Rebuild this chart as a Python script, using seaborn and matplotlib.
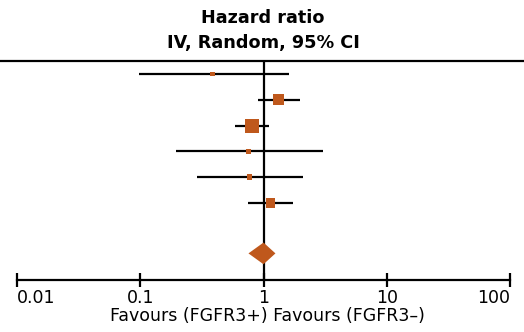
import numpy as np
import pandas as pd
import matplotlib
matplotlib.use("Agg")
import matplotlib.pyplot as plt
import seaborn as sns

# Study estimates (hazard ratio with 95% CI), top to bottom
hr = [0.385, 1.32, 0.80, 0.755, 0.77, 1.14]
ci_low = [0.098, 0.91, 0.59, 0.196, 0.29, 0.755]
ci_high = [1.60, 1.96, 1.10, 3.02, 2.08, 1.75]
weights = [4, 24, 41, 4, 6, 20]

# Pooled estimate (random effects)
pooled_hr = 1.0
pooled_low = 0.755
pooled_high = 1.25

tick_vals = [0.01, 0.1, 1, 10, 100]
tick_labels = ["0.01", "0.1", "1", "10", "100"]

orange = "#bf581c"

sns.set_theme(style="white")
plt.rcParams['font.family'] = ['DejaVu Sans']

df = pd.DataFrame({"hr": hr, "lo": ci_low, "hi": ci_high,
                   "w": weights, "row": np.arange(len(hr))})
pooled_row = len(hr) + 0.95

fig = plt.figure(figsize=(5.24, 3.32), dpi=100)
ax = fig.add_axes([0, 1 - 280 / 332, 1, (280 - 61) / 332])

# confidence intervals
ax.hlines(df["row"], df["lo"], df["hi"], color="black", lw=1.6, zorder=2)
# line of no effect
ax.axvline(1, color="black", lw=1.6, zorder=3)

# study squares, area proportional to weight
sns.scatterplot(data=df, x="hr", y="row", size="w", sizes=(11, 100),
                marker="s", color=orange, linewidth=0, legend=False,
                ax=ax, zorder=4)

# pooled diamond
dh = 0.42
ax.fill([pooled_low, pooled_hr, pooled_high, pooled_hr],
        [pooled_row, pooled_row - dh, pooled_row, pooled_row + dh],
        color=orange, lw=0, zorder=5)

ax.set_xscale("log")
ax.set_xlim(10 ** (-2 - 17 / 123.25), 10 ** (2 + 14 / 123.25))
ax.set_ylim(7.98, -0.5)
ax.set_xlabel("")
ax.set_ylabel("")
ax.set_yticks([])
ax.set_xticks(tick_vals)
ax.set_xticklabels(tick_labels, fontsize=12.5, color="black")
ax.minorticks_off()
ax.tick_params(axis="x", direction="inout", length=10, width=1.6,
               color="black", pad=1.5, bottom=True)
labs = ax.get_xticklabels()
labs[0].set_horizontalalignment("left")
labs[-1].set_horizontalalignment("right")

for s in ["left", "right"]:
    ax.spines[s].set_visible(False)
for s in ["top", "bottom"]:
    ax.spines[s].set_visible(True)
    ax.spines[s].set_color("black")
    ax.spines[s].set_linewidth(1.6)
ax.spines["bottom"].set_bounds(0.01, 100)

# header
fig.text(263 / 524, 1 - 18 / 332, "Hazard ratio", ha="center", va="center",
         fontsize=12.7, fontweight="bold", color="black")
fig.text(263 / 524, 1 - 43 / 332, "IV, Random, 95% CI", ha="center", va="center",
         fontsize=12.7, fontweight="bold", color="black")

fig.text(267 / 524, 1 - 316 / 332, "Favours (FGFR3+) Favours (FGFR3\u2013)",
         ha="center", va="center", fontsize=12.5, color="black")

fig.savefig("out.png", dpi=100)
